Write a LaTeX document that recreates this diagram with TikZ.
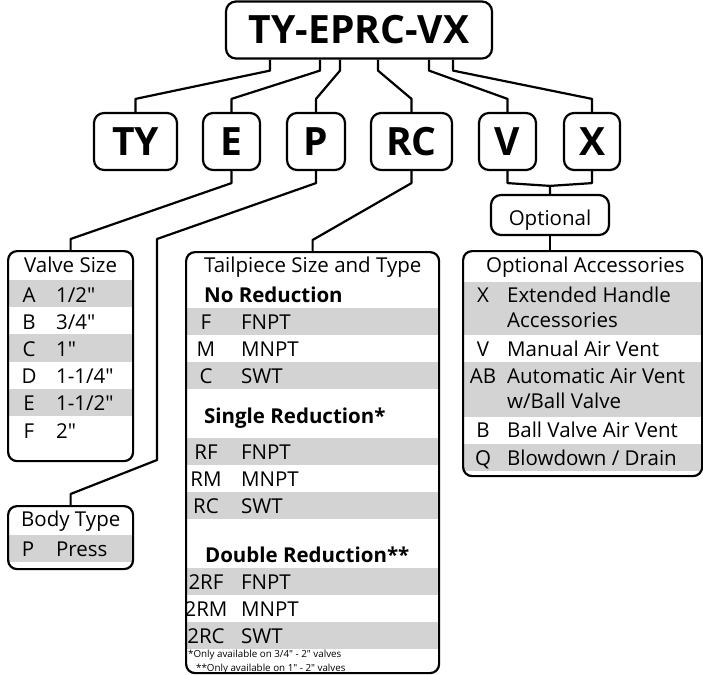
\documentclass[tikz,border=0pt]{standalone}
\usepackage{fontspec}
\setmainfont{Open Sans}[Ligatures=TeXOff]
\usetikzlibrary{positioning}
\definecolor{rowgray}{RGB}{211,211,211}
\def\bigtext{\bfseries\fontsize{39}{39}\selectfont}
\def\tabtext{\fontsize{20.5}{24}\selectfont}
\def\notetext{\fontsize{9.8}{11}\selectfont}

\begin{document}
\begin{tikzpicture}[x=1pt,y=-1pt,line width=2.2pt,
	codebox/.style={draw,rounded corners=10pt,inner sep=0pt,minimum height=57pt,font=\bigtext},
	tablebox/.style={draw,rounded corners=9pt,inner sep=0pt,anchor=north west},
	head/.style={anchor=base west,inner sep=0pt,font=\tabtext},
	code/.style={anchor=base,inner sep=0pt,font=\tabtext},
	desc/.style={anchor=base west,inner sep=0pt,font=\tabtext},
	note/.style={anchor=base west,inner sep=0pt,font=\notetext},
	link/.style={line join=round}]

	\useasboundingbox (0,0) rectangle (703,674);

	% the model number and its parts
	\node[codebox,minimum width=266pt] (title) at (359,30)      {TY-EPRC-VX};
	\node[codebox,minimum width=83pt]  (ty)    at (135.5,141.5) {TY};
	\node[codebox,minimum width=57pt]  (e)     at (231.5,141.5) {E};
	\node[codebox,minimum width=58pt]  (p)     at (316,141.5)   {P};
	\node[codebox,minimum width=81pt]  (rc)    at (411.5,141.5) {RC};
	\node[codebox,minimum width=57pt]  (v)     at (507.5,141.5) {V};
	\node[codebox,minimum width=56pt]  (x)     at (592,141.5)   {X};
	\node[draw,rounded corners=10pt,inner sep=0pt,minimum width=118pt,minimum height=40pt,
		text height=20pt,text depth=0pt,font=\tabtext] (opt) at (550,215) {Optional};

	% grey rows
	\foreach \t in {280,334.4,388.8}
		\fill[rowgray] (7,\t) rectangle (132,{\t+27.2});
	\fill[rowgray] (7,535) rectangle (132,562);
	\foreach \t in {308,362,438,492,568,622}
		\fill[rowgray] (185,\t) rectangle (438,{\t+27});
	\begin{scope}
		\clip[rounded corners=9pt] (462,250) rectangle (701,475);
		\foreach \t/\b in {282/335,362/417,444/471}
			\fill[rowgray] (462,\t) rectangle (701,\b);
	\end{scope}

	% tables
	\node[tablebox,minimum width=125pt,minimum height=210pt] (valve) at (7,250)   {};
	\node[tablebox,minimum width=125pt,minimum height=63pt]  (body)  at (7,505)   {};
	\node[tablebox,minimum width=253pt,minimum height=421pt] (tail)  at (185,251) {};
	\node[tablebox,minimum width=239pt,minimum height=225pt] (acc)   at (462,250) {};

	% valve size
	\node[head] (valvehead) at (23,272) {Valve Size};
	\foreach \c/\d [count=\i] in {A/{1/2"},B/{3/4"},C/{1"},D/{1-1/4"},E/{1-1/2"},F/{2"}} {
		\node[code] (vsc\i) at (29,{302+27.2*(\i-1)}) {\c};
		\node[desc] (vsd\i) at (55,{302+27.2*(\i-1)}) {\d};
	}

	% body type
	\node[head] (bodyhead) at (20,526) {Body Type};
	\node[code] (btc) at (28,556) {P};
	\node[desc] (btd) at (55,556) {Press};

	% tailpiece
	\node[head] (tailhead) at (203,272) {Tailpiece Size and Type};
	\node[head,font=\tabtext\bfseries] (nored) at (203,302) {No Reduction};
	\node[head,font=\tabtext\bfseries] (sgred) at (203,423) {Single Reduction*};
	\node[head,font=\tabtext\bfseries] (dbred) at (204,562) {Double Reduction**};
	\foreach \c/\d/\y [count=\i] in {F/FNPT/329,M/MNPT/356,C/SWT/383,
			RF/FNPT/459,RM/MNPT/486,RC/SWT/513,
			2RF/FNPT/589,2RM/MNPT/616,2RC/SWT/643} {
		\node[code] (tpc\i) at (206,\y) {\c};
		\node[desc] (tpd\i) at (240,\y) {\d};
	}
	\node[note] (note1) at (187,657) {*Only available on 3/4" - 2" valves};
	\node[note] (note2) at (195,671) {**Only available on 1" - 2" valves};

	% accessories
	\node[head] (acchead) at (485,272) {Optional Accessories};
	\foreach \c/\d/\y [count=\i] in {X/Extended Handle/302,V/Manual Air Vent/356,
			AB/Automatic Air Vent/383,B/Ball Valve Air Vent/437,Q/{Blowdown / Drain}/465} {
		\node[code] (acc\i) at (483,\y) {\c};
		\node[desc] (accd\i) at (506,\y) {\d};
	}
	\node[desc] (accx2) at (506,327) {Accessories};
	\node[desc] (accab2) at (506,408) {w/Ball Valve};

	% connectors
	\draw[link] ([xshift=-89pt]title.south) -- ++(0,11) -- ([yshift=13pt]ty.north) -- (ty.north);
	\draw[link] ([xshift=-39pt]title.south) -- ++(0,11) -- ([yshift=13pt]e.north) -- (e.north);
	\draw[link] ([xshift=-19pt]title.south) -- ++(0,11) -- ([yshift=13pt]p.north) -- (p.north);
	\draw[link] ([xshift=19pt]title.south) -- ++(0,11) -- ([yshift=13pt]rc.north) -- (rc.north);
	\draw[link] ([xshift=70pt]title.south) -- ++(0,11) -- ([yshift=13pt]v.north) -- (v.north);
	\draw[link] ([xshift=94pt]title.south) -- ++(0,11) -- ([yshift=13pt]x.north) -- (x.north);

	\draw[link] (e.south) -- ++(0,12) -- ([yshift=11pt]valve.north) -- (valve.north);
	\draw[link] (p.south) -- ++(0,12) -- (157,239) -- (157,460) -- ([yshift=11pt]body.north) -- (body.north);
	\draw[link] (rc.south) -- ++(0,12) -- ([yshift=11pt]tail.north) -- (tail.north);
	\draw[link] (v.south) -- ++(0,12) -- ([yshift=8pt]opt.north) -- (opt.north);
	\draw[link] (x.south) -- ++(0,12) -- ([yshift=8pt]opt.north);
	\draw[link] (opt.south) -- (opt.south |- acc.north);
\end{tikzpicture}
\end{document}
